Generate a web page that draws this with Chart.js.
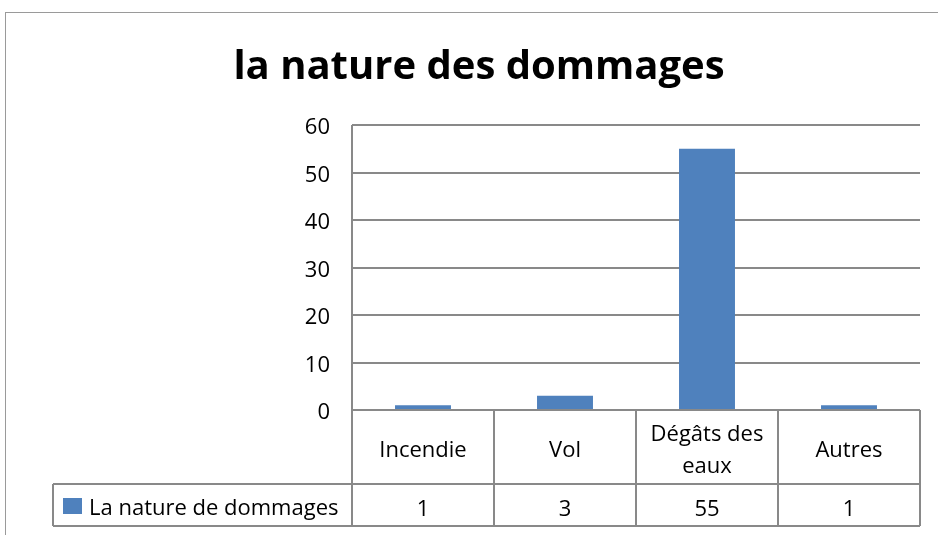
<!DOCTYPE html>
<html lang="fr">
<head>
<meta charset="UTF-8">
<title>la nature des dommages</title>
<script src="https://cdn.jsdelivr.net/npm/chart.js"></script>
<style>
  html, body { margin: 0; padding: 0; background: #fff; }
  #wrap { width: 938px; height: 535px; }
</style>
</head>
<body>
<div id="wrap"><canvas id="chart" width="938" height="535"></canvas></div>
<script>
// donnees du graphique
const categories = [['Incendie'], ['Vol'], ['Dégâts des', 'eaux'], ['Autres']];
const serieNom = 'La nature de dommages';
const valeurs = [1, 3, 55, 1];
const yTicks = [0, 10, 20, 30, 40, 50, 60];

const bleu = '#4F81BD';
const gris = '#898989';
const police = "'Open Sans', sans-serif";

// dessine le cadre, la table de donnees et la legende sous l'axe
const tablePlugin = {
  id: 'tableDonnees',
  afterDraw(chart) {
    const ctx = chart.ctx;
    const x = chart.scales.x;
    const area = chart.chartArea;
    const largeur = (area.right - area.left) / categories.length;
    const yLigne1 = area.bottom;
    const yLigne2 = 484;
    const yFin = 526;
    const xGauche = 53;

    ctx.save();
    // cadre exterieur
    ctx.strokeStyle = '#9a9a9a';
    ctx.lineWidth = 1;
    ctx.strokeRect(5.5, 12.5, 1000, 1000);

    ctx.strokeStyle = gris;
    ctx.lineWidth = 2;
    ctx.beginPath();
    // lignes horizontales
    ctx.moveTo(area.left, yLigne1); ctx.lineTo(area.right, yLigne1);
    ctx.moveTo(xGauche, yLigne2); ctx.lineTo(area.right, yLigne2);
    ctx.moveTo(xGauche, yFin); ctx.lineTo(area.right, yFin);
    // lignes verticales
    ctx.moveTo(xGauche, yLigne2); ctx.lineTo(xGauche, yFin);
    for (let i = 0; i <= categories.length; i++) {
      const px = area.left + i * largeur;
      ctx.moveTo(px, i === 0 ? area.top : yLigne1);
      ctx.lineTo(px, yFin);
    }
    ctx.stroke();

    ctx.fillStyle = '#000';
    ctx.font = '22px ' + police;
    ctx.textAlign = 'center';
    ctx.textBaseline = 'middle';
    categories.forEach((lignes, i) => {
      const cx = x.getPixelForValue(i);
      const milieu = (yLigne1 + yLigne2) / 2 + 4;
      const h = 32;
      lignes.forEach((t, j) => {
        ctx.fillText(t, cx, milieu + (j - (lignes.length - 1) / 2) * h);
      });
      ctx.fillText(String(valeurs[i]), cx, (yLigne2 + yFin) / 2 + 5);
    });

    // legende de la serie
    ctx.fillStyle = bleu;
    ctx.fillRect(63, 498, 19, 16);
    ctx.fillStyle = '#000';
    ctx.textAlign = 'left';
    ctx.fillText(serieNom, 89, (yLigne2 + yFin) / 2 + 4);
    ctx.restore();
  }
};

new Chart(document.getElementById('chart'), {
  type: 'bar',
  data: {
    labels: categories,
    datasets: [{
      label: serieNom,
      data: valeurs,
      backgroundColor: bleu,
      barPercentage: 0.394,
      categoryPercentage: 1
    }]
  },
  options: {
    responsive: false,
    animation: false,
    layout: { padding: { left: 38, right: 18, top: 0, bottom: 125 } },
    plugins: {
      legend: { display: false },
      tooltip: { enabled: false },
      title: {
        display: true,
        text: 'la nature des dommages',
        color: '#000',
        font: { family: police, size: 40, weight: 'bold', lineHeight: 1.2 },
        padding: { top: 44, bottom: 33 }
      }
    },
    scales: {
      x: { display: false },
      y: {
        min: 0,
        max: 60,
        afterFit(s) { s.width = 314; },
        afterBuildTicks(s) { s.ticks = yTicks.map(v => ({ value: v })); },
        border: { display: false },
        grid: { color: gris, lineWidth: 2, drawTicks: false },
        ticks: {
          color: '#000',
          padding: 22,
          labelOffset: 3,
          font: { family: police, size: 22 }
        }
      }
    }
  },
  plugins: [tablePlugin]
});
</script>
</body>
</html>
